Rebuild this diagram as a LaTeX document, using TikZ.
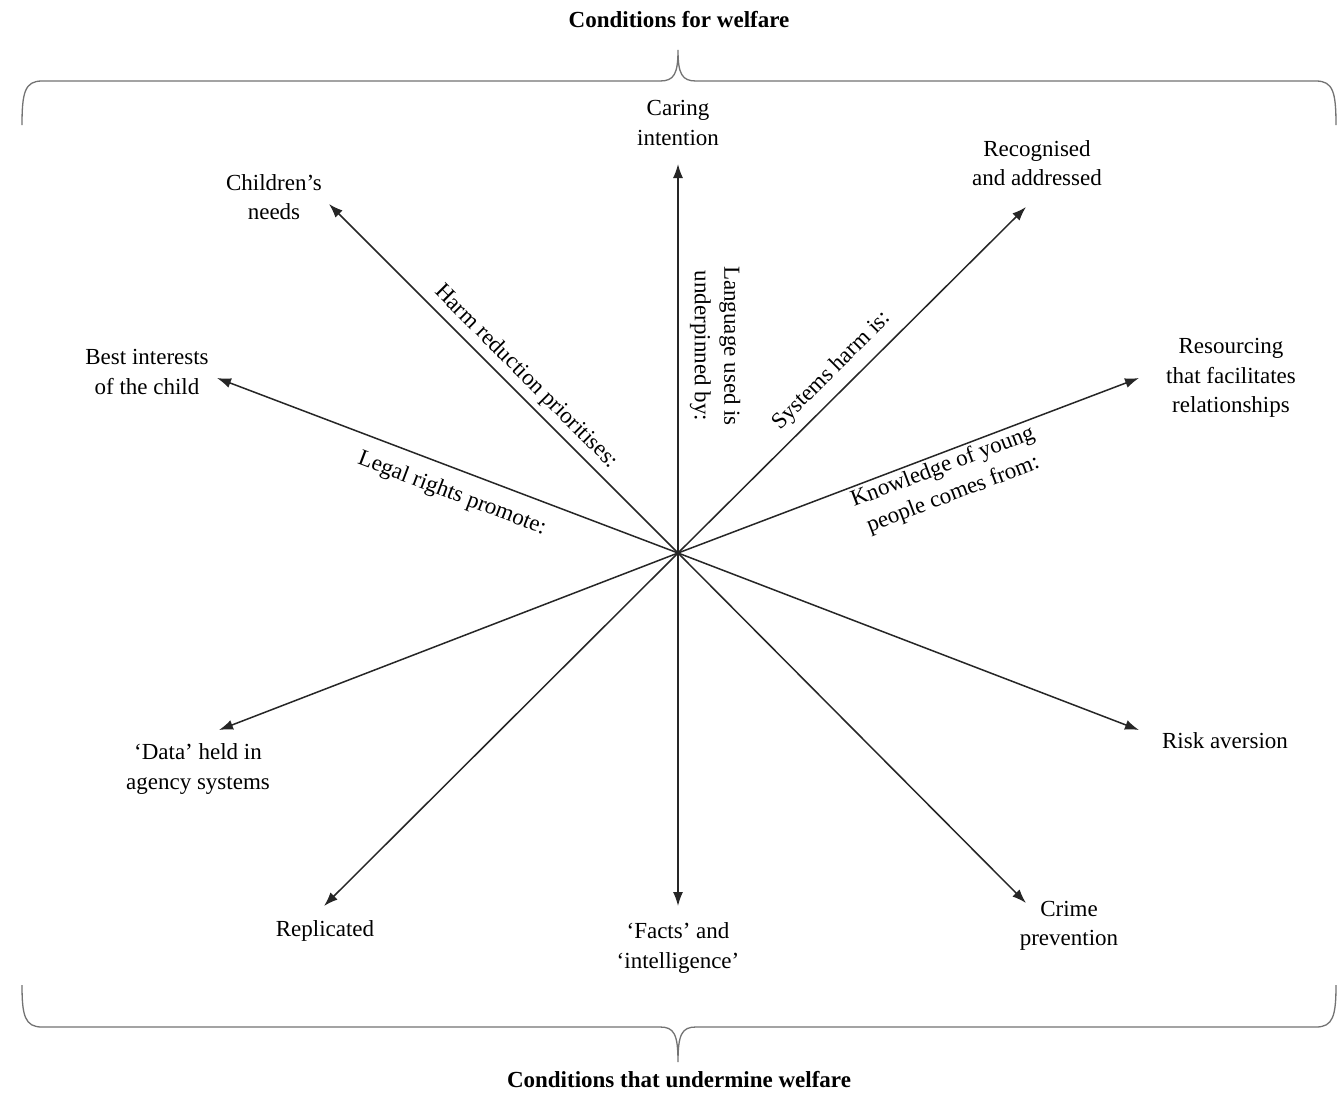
\documentclass[tikz,border=0pt]{standalone}
\usepackage{fontspec}
\setmainfont{Liberation Serif}
\usetikzlibrary{arrows.meta}
\begin{document}
\begin{tikzpicture}[x=1pt,y=-1pt,
  lbl/.style={align=center,font=\fontsize{23}{29.5}\selectfont,inner sep=0pt},
  ttl/.style={font=\fontsize{23}{28}\selectfont\bfseries,inner sep=0pt},
  ray/.style={draw=black!85,line width=1.5pt,-{Latex[length=14pt,width=10pt]}},
  brace/.style={draw=black!55,line width=1.3pt}]
\useasboundingbox (0,0) rectangle (1342,1093);
\fill[white] (0,0) rectangle (1342,1093);
% titles
\node[ttl] (ttop) at (679,20) {Conditions for welfare};
\node[ttl] (tbot) at (679,1080) {Conditions that undermine welfare};
% braces
\draw[brace] (22,125) .. controls (22,92) and (25,81) .. (42,81) -- (660,81)
  .. controls (674,81) and (678,74) .. (678,50) .. controls (678,74) and (682,81) .. (696,81)
  -- (1316,81) .. controls (1333,81) and (1336,92) .. (1336,125);
\draw[brace] (22,985) .. controls (22,1016) and (25,1027) .. (42,1027) -- (660,1027)
  .. controls (674,1027) and (678,1034) .. (678,1062) .. controls (678,1034) and (682,1027) .. (696,1027)
  -- (1316,1027) .. controls (1333,1027) and (1336,1016) .. (1336,985);
% centre and ends
\coordinate (c) at (678,553);
\coordinate (eN) at (678,164);
\coordinate (eS) at (678,906);
\coordinate (eNW) at (329,204);
\coordinate (eSE) at (1026,903);
\coordinate (eWNW) at (217,378);
\coordinate (eESE) at (1139,730);
\coordinate (eNE) at (1026,207);
\coordinate (eSW) at (324,906);
\coordinate (eENE) at (1139,378);
\coordinate (eWSW) at (219,730);
\foreach \e in {eN,eS,eNW,eSE,eWNW,eESE,eNE,eSW,eENE,eWSW}
  \draw[ray] (c) -- (\e);
% end labels
\node[lbl] (caring) at (678,123) {Caring\\intention};
\node[lbl] (children) at (274,197) {Children's\\needs};
\node[lbl] (recog) at (1037,163) {Recognised\\and addressed};
\node[lbl] (best) at (147,372) {Best interests\\of the child};
\node[lbl] (resourcing) at (1231,378) {Resourcing\\that facilitates\\relationships};
\node[lbl] (data) at (198,769) {‘Data’ held in\\agency systems};
\node[lbl] (replicated) at (325,931) {Replicated};
\node[lbl] (facts) at (678,948) {‘Facts’ and\\‘intelligence’};
\node[lbl] (risk) at (1225,741) {Risk aversion};
\node[lbl] (crime) at (1069,926) {Crime\\prevention};
% line labels
\node[lbl,rotate=-45] (harm) at (526,377) {Harm reduction prioritises:};
\node[lbl,rotate=-90] (lang) at (715,346) {Language used is\\underpinned by:};
\node[lbl,rotate=45] (sys) at (832,371) {Systems harm is:};
\node[lbl,rotate=20.8] (know) at (948,481) {Knowledge of young\\people comes from:};
\node[lbl,rotate=-20.8] (legal) at (452,494) {Legal rights promote:};
\end{tikzpicture}
\end{document}
